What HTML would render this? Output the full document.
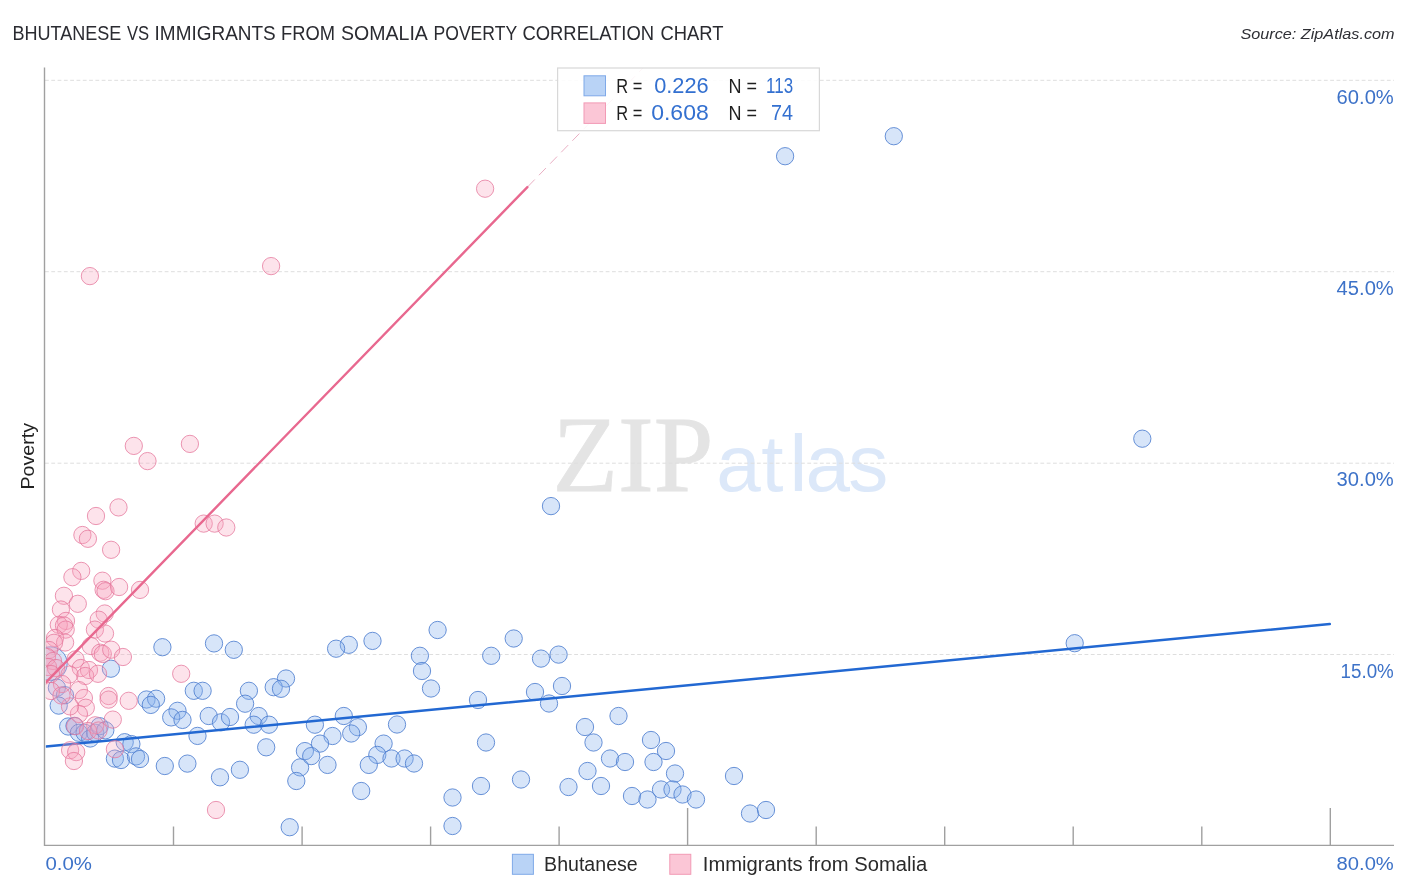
<!DOCTYPE html>
<html lang="en">
<head>
<meta charset="utf-8">
<title>Bhutanese vs Immigrants from Somalia Poverty Correlation Chart</title>
<style>
html,body{margin:0;padding:0;background:#fff;}
body{width:1406px;height:892px;overflow:hidden;font-family:"Liberation Sans",sans-serif;}
svg{display:block;}
text{font-family:"Liberation Sans",sans-serif;}
.title{font-size:19.5px;fill:#2a2b31;}
.src{font-size:15.5px;font-style:italic;fill:#2e2f35;}
.ax{font-size:19.7px;fill:#3d72c8;}
.xl{font-size:19.2px;}
.ylab{font-size:18.8px;fill:#222;}
.leg{font-size:20px;fill:#2a2a2a;}
.lt{font-size:20px;fill:#1f1f1f;}
.lv{font-size:21.4px;fill:#3370d0;}
.grid line{stroke:#dedede;stroke-width:1;stroke-dasharray:3.8 2.5;}
.axis line{stroke:#a0a0a0;stroke-width:1.4;}
.b{fill:#8ab4ee;fill-opacity:.34;stroke:#4f7fd0;stroke-opacity:.85;stroke-width:1;}
.p{fill:#f7a3bd;fill-opacity:.30;stroke:#e4749a;stroke-opacity:.75;stroke-width:1;}
.wm1{font-family:"Liberation Serif",serif;font-size:108.5px;fill:#e4e4e4;stroke:#e4e4e4;stroke-width:.8;}
.wm2{font-family:"Liberation Sans",sans-serif;font-size:80px;fill:#dce8f9;}
</style>
</head>
<body>
<svg width="1406" height="892" viewBox="0 0 1406 892">
<defs>
<clipPath id="plot"><rect x="45.8" y="60" width="1350" height="785"/></clipPath>
</defs>
<rect width="1406" height="892" fill="#ffffff"/>
<text class="title" y="40.2"><tspan x="12.5" textLength="108.9" lengthAdjust="spacingAndGlyphs">BHUTANESE</tspan> <tspan x="127" textLength="22.2" lengthAdjust="spacingAndGlyphs">VS</tspan> <tspan x="154.6" textLength="121.1" lengthAdjust="spacingAndGlyphs">IMMIGRANTS</tspan> <tspan x="281.1" textLength="54.0" lengthAdjust="spacingAndGlyphs">FROM</tspan> <tspan x="341.1" textLength="85.7" lengthAdjust="spacingAndGlyphs">SOMALIA</tspan> <tspan x="433.5" textLength="83.3" lengthAdjust="spacingAndGlyphs">POVERTY</tspan> <tspan x="522.4" textLength="131.7" lengthAdjust="spacingAndGlyphs">CORRELATION</tspan> <tspan x="660.5" textLength="63.0" lengthAdjust="spacingAndGlyphs">CHART</tspan></text>
<text class="src" x="1240.4" y="39" textLength="154.2" lengthAdjust="spacingAndGlyphs">Source: ZipAtlas.com</text>

<g class="wm">
<text class="wm1" x="552.5" y="491" textLength="161" lengthAdjust="spacingAndGlyphs">ZIP</text>
<text class="wm2" x="716.2 761.2 789.5 805.5 848.3" y="491">atlas</text>
</g>

<g class="grid">
<line x1="45" y1="80.3" x2="1394" y2="80.3"/>
<line x1="45" y1="271.7" x2="1394" y2="271.7"/>
<line x1="45" y1="463.2" x2="1394" y2="463.2"/>
<line x1="45" y1="654.5" x2="1394" y2="654.5"/>
</g>

<g clip-path="url(#plot)">
<g id="blue">
<circle class="b" cx="50.4" cy="663.6" r="16.8"/>
<circle class="b" cx="785.1" cy="156.2" r="8.65"/>
<circle class="b" cx="893.8" cy="136.2" r="8.65"/>
<circle class="b" cx="1142.3" cy="438.7" r="8.65"/>
<circle class="b" cx="1074.7" cy="643.2" r="8.65"/>
<circle class="b" cx="551.0" cy="506.1" r="8.65"/>
<circle class="b" cx="437.6" cy="630.0" r="8.65"/>
<circle class="b" cx="372.5" cy="640.9" r="8.65"/>
<circle class="b" cx="348.8" cy="644.8" r="8.65"/>
<circle class="b" cx="336.1" cy="648.7" r="8.65"/>
<circle class="b" cx="419.9" cy="655.8" r="8.65"/>
<circle class="b" cx="422.0" cy="671.0" r="8.65"/>
<circle class="b" cx="491.2" cy="655.8" r="8.65"/>
<circle class="b" cx="513.7" cy="638.5" r="8.65"/>
<circle class="b" cx="541.0" cy="658.6" r="8.65"/>
<circle class="b" cx="558.6" cy="654.6" r="8.65"/>
<circle class="b" cx="162.4" cy="647.2" r="8.65"/>
<circle class="b" cx="214.0" cy="643.4" r="8.65"/>
<circle class="b" cx="233.8" cy="649.8" r="8.65"/>
<circle class="b" cx="110.9" cy="668.7" r="8.65"/>
<circle class="b" cx="56.9" cy="687.7" r="8.65"/>
<circle class="b" cx="65.0" cy="695.2" r="8.65"/>
<circle class="b" cx="58.7" cy="705.6" r="8.65"/>
<circle class="b" cx="193.8" cy="690.8" r="8.65"/>
<circle class="b" cx="202.6" cy="690.8" r="8.65"/>
<circle class="b" cx="146.5" cy="699.5" r="8.65"/>
<circle class="b" cx="156.1" cy="698.7" r="8.65"/>
<circle class="b" cx="150.8" cy="704.9" r="8.65"/>
<circle class="b" cx="177.5" cy="710.8" r="8.65"/>
<circle class="b" cx="171.2" cy="717.4" r="8.65"/>
<circle class="b" cx="182.5" cy="719.9" r="8.65"/>
<circle class="b" cx="208.7" cy="716.0" r="8.65"/>
<circle class="b" cx="221.0" cy="722.3" r="8.65"/>
<circle class="b" cx="230.0" cy="717.0" r="8.65"/>
<circle class="b" cx="197.5" cy="735.9" r="8.65"/>
<circle class="b" cx="68.2" cy="726.5" r="8.65"/>
<circle class="b" cx="74.5" cy="725.9" r="8.65"/>
<circle class="b" cx="78.9" cy="732.8" r="8.65"/>
<circle class="b" cx="84.6" cy="732.8" r="8.65"/>
<circle class="b" cx="90.2" cy="738.5" r="8.65"/>
<circle class="b" cx="95.2" cy="732.8" r="8.65"/>
<circle class="b" cx="99.6" cy="726.2" r="8.65"/>
<circle class="b" cx="105.3" cy="730.3" r="8.65"/>
<circle class="b" cx="124.7" cy="742.2" r="8.65"/>
<circle class="b" cx="131.4" cy="744.1" r="8.65"/>
<circle class="b" cx="114.9" cy="758.6" r="8.65"/>
<circle class="b" cx="121.0" cy="760.0" r="8.65"/>
<circle class="b" cx="136.0" cy="756.4" r="8.65"/>
<circle class="b" cx="140.0" cy="759.0" r="8.65"/>
<circle class="b" cx="164.8" cy="766.0" r="8.65"/>
<circle class="b" cx="187.4" cy="763.6" r="8.65"/>
<circle class="b" cx="286.0" cy="678.5" r="8.65"/>
<circle class="b" cx="273.7" cy="687.2" r="8.65"/>
<circle class="b" cx="281.0" cy="688.8" r="8.65"/>
<circle class="b" cx="248.9" cy="690.8" r="8.65"/>
<circle class="b" cx="245.1" cy="703.7" r="8.65"/>
<circle class="b" cx="258.7" cy="716.0" r="8.65"/>
<circle class="b" cx="253.7" cy="724.7" r="8.65"/>
<circle class="b" cx="269.0" cy="724.7" r="8.65"/>
<circle class="b" cx="314.9" cy="724.7" r="8.65"/>
<circle class="b" cx="343.8" cy="716.0" r="8.65"/>
<circle class="b" cx="357.9" cy="727.2" r="8.65"/>
<circle class="b" cx="351.2" cy="733.5" r="8.65"/>
<circle class="b" cx="332.5" cy="736.0" r="8.65"/>
<circle class="b" cx="320.0" cy="743.6" r="8.65"/>
<circle class="b" cx="266.2" cy="747.3" r="8.65"/>
<circle class="b" cx="304.9" cy="751.1" r="8.65"/>
<circle class="b" cx="311.2" cy="756.1" r="8.65"/>
<circle class="b" cx="300.1" cy="767.4" r="8.65"/>
<circle class="b" cx="327.5" cy="764.9" r="8.65"/>
<circle class="b" cx="296.3" cy="781.0" r="8.65"/>
<circle class="b" cx="239.9" cy="769.8" r="8.65"/>
<circle class="b" cx="220.0" cy="777.3" r="8.65"/>
<circle class="b" cx="383.6" cy="743.6" r="8.65"/>
<circle class="b" cx="377.3" cy="754.9" r="8.65"/>
<circle class="b" cx="368.8" cy="764.9" r="8.65"/>
<circle class="b" cx="391.5" cy="758.5" r="8.65"/>
<circle class="b" cx="361.2" cy="791.0" r="8.65"/>
<circle class="b" cx="397.0" cy="724.5" r="8.65"/>
<circle class="b" cx="289.7" cy="827.2" r="8.65"/>
<circle class="b" cx="431.0" cy="688.5" r="8.65"/>
<circle class="b" cx="478.0" cy="700.0" r="8.65"/>
<circle class="b" cx="535.0" cy="692.0" r="8.65"/>
<circle class="b" cx="549.0" cy="703.5" r="8.65"/>
<circle class="b" cx="562.0" cy="686.0" r="8.65"/>
<circle class="b" cx="404.6" cy="758.5" r="8.65"/>
<circle class="b" cx="414.0" cy="763.5" r="8.65"/>
<circle class="b" cx="486.0" cy="742.5" r="8.65"/>
<circle class="b" cx="452.5" cy="797.5" r="8.65"/>
<circle class="b" cx="452.5" cy="826.0" r="8.65"/>
<circle class="b" cx="481.0" cy="786.0" r="8.65"/>
<circle class="b" cx="521.0" cy="779.5" r="8.65"/>
<circle class="b" cx="618.5" cy="716.0" r="8.65"/>
<circle class="b" cx="585.0" cy="727.0" r="8.65"/>
<circle class="b" cx="593.5" cy="742.5" r="8.65"/>
<circle class="b" cx="610.0" cy="758.5" r="8.65"/>
<circle class="b" cx="625.0" cy="762.0" r="8.65"/>
<circle class="b" cx="587.5" cy="771.0" r="8.65"/>
<circle class="b" cx="568.5" cy="787.0" r="8.65"/>
<circle class="b" cx="601.0" cy="786.0" r="8.65"/>
<circle class="b" cx="651.0" cy="740.0" r="8.65"/>
<circle class="b" cx="666.0" cy="751.0" r="8.65"/>
<circle class="b" cx="653.5" cy="762.0" r="8.65"/>
<circle class="b" cx="675.0" cy="773.5" r="8.65"/>
<circle class="b" cx="632.0" cy="796.0" r="8.65"/>
<circle class="b" cx="647.5" cy="799.5" r="8.65"/>
<circle class="b" cx="661.0" cy="789.5" r="8.65"/>
<circle class="b" cx="672.5" cy="789.5" r="8.65"/>
<circle class="b" cx="682.5" cy="794.5" r="8.65"/>
<circle class="b" cx="696.0" cy="799.5" r="8.65"/>
<circle class="b" cx="734.0" cy="776.0" r="8.65"/>
<circle class="b" cx="750.0" cy="813.5" r="8.65"/>
<circle class="b" cx="766.0" cy="810.0" r="8.65"/>
</g>
<line x1="46" y1="746.5" x2="1329.8" y2="624.1" stroke="#2268d2" stroke-width="2.5" stroke-linecap="round"/>
<g id="pink">
<circle class="p" cx="89.9" cy="276.1" r="8.65"/>
<circle class="p" cx="271.1" cy="266.1" r="8.65"/>
<circle class="p" cx="485.1" cy="188.7" r="8.65"/>
<circle class="p" cx="133.8" cy="445.9" r="8.65"/>
<circle class="p" cx="147.5" cy="461.1" r="8.65"/>
<circle class="p" cx="189.9" cy="443.9" r="8.65"/>
<circle class="p" cx="118.5" cy="507.4" r="8.65"/>
<circle class="p" cx="96.0" cy="516.0" r="8.65"/>
<circle class="p" cx="82.4" cy="535.0" r="8.65"/>
<circle class="p" cx="87.9" cy="538.8" r="8.65"/>
<circle class="p" cx="111.1" cy="549.8" r="8.65"/>
<circle class="p" cx="203.7" cy="523.6" r="8.65"/>
<circle class="p" cx="214.6" cy="523.6" r="8.65"/>
<circle class="p" cx="226.3" cy="527.5" r="8.65"/>
<circle class="p" cx="81.2" cy="570.9" r="8.65"/>
<circle class="p" cx="72.4" cy="577.2" r="8.65"/>
<circle class="p" cx="102.4" cy="580.7" r="8.65"/>
<circle class="p" cx="103.6" cy="589.8" r="8.65"/>
<circle class="p" cx="105.5" cy="591.2" r="8.65"/>
<circle class="p" cx="119.1" cy="587.0" r="8.65"/>
<circle class="p" cx="140.0" cy="589.9" r="8.65"/>
<circle class="p" cx="63.9" cy="595.8" r="8.65"/>
<circle class="p" cx="77.8" cy="603.8" r="8.65"/>
<circle class="p" cx="60.9" cy="609.5" r="8.65"/>
<circle class="p" cx="104.7" cy="613.5" r="8.65"/>
<circle class="p" cx="98.7" cy="619.7" r="8.65"/>
<circle class="p" cx="66.0" cy="620.9" r="8.65"/>
<circle class="p" cx="58.8" cy="624.8" r="8.65"/>
<circle class="p" cx="64.0" cy="625.5" r="8.65"/>
<circle class="p" cx="65.7" cy="629.6" r="8.65"/>
<circle class="p" cx="94.9" cy="629.6" r="8.65"/>
<circle class="p" cx="105.0" cy="633.5" r="8.65"/>
<circle class="p" cx="55.0" cy="638.0" r="8.65"/>
<circle class="p" cx="65.1" cy="642.5" r="8.65"/>
<circle class="p" cx="54.0" cy="642.8" r="8.65"/>
<circle class="p" cx="90.8" cy="646.0" r="8.65"/>
<circle class="p" cx="100.3" cy="652.7" r="8.65"/>
<circle class="p" cx="102.8" cy="654.0" r="8.65"/>
<circle class="p" cx="111.2" cy="649.7" r="8.65"/>
<circle class="p" cx="122.9" cy="657.0" r="8.65"/>
<circle class="p" cx="75.5" cy="659.4" r="8.65"/>
<circle class="p" cx="80.8" cy="668.0" r="8.65"/>
<circle class="p" cx="89.0" cy="670.0" r="8.65"/>
<circle class="p" cx="85.2" cy="676.0" r="8.65"/>
<circle class="p" cx="98.0" cy="673.8" r="8.65"/>
<circle class="p" cx="181.2" cy="673.8" r="8.65"/>
<circle class="p" cx="108.6" cy="696.0" r="8.65"/>
<circle class="p" cx="108.6" cy="699.6" r="8.65"/>
<circle class="p" cx="128.7" cy="700.8" r="8.65"/>
<circle class="p" cx="112.8" cy="719.6" r="8.65"/>
<circle class="p" cx="78.9" cy="690.1" r="8.65"/>
<circle class="p" cx="83.9" cy="698.0" r="8.65"/>
<circle class="p" cx="85.8" cy="707.7" r="8.65"/>
<circle class="p" cx="78.9" cy="714.0" r="8.65"/>
<circle class="p" cx="70.0" cy="706.4" r="8.65"/>
<circle class="p" cx="95.2" cy="725.3" r="8.65"/>
<circle class="p" cx="70.1" cy="750.2" r="8.65"/>
<circle class="p" cx="76.2" cy="752.1" r="8.65"/>
<circle class="p" cx="73.9" cy="761.0" r="8.65"/>
<circle class="p" cx="114.9" cy="749.2" r="8.65"/>
<circle class="p" cx="216.0" cy="810.0" r="8.65"/>
<circle class="p" cx="49.0" cy="650.0" r="8.65"/>
<circle class="p" cx="47.0" cy="657.0" r="8.65"/>
<circle class="p" cx="53.0" cy="661.0" r="8.65"/>
<circle class="p" cx="48.0" cy="667.0" r="8.65"/>
<circle class="p" cx="56.0" cy="668.0" r="8.65"/>
<circle class="p" cx="51.0" cy="674.0" r="8.65"/>
<circle class="p" cx="69.5" cy="674.5" r="8.65"/>
<circle class="p" cx="62.0" cy="684.0" r="8.65"/>
<circle class="p" cx="51.0" cy="691.0" r="8.65"/>
<circle class="p" cx="61.5" cy="695.5" r="8.65"/>
<circle class="p" cx="75.2" cy="726.2" r="8.65"/>
<circle class="p" cx="88.0" cy="731.0" r="8.65"/>
<circle class="p" cx="98.5" cy="730.5" r="8.65"/>
</g>
<line x1="46" y1="682.4" x2="527.4" y2="187.1" stroke="#e8688f" stroke-width="2.4" stroke-linecap="round"/>
<line x1="527.8" y1="186.7" x2="643" y2="68" stroke="#e08fab" stroke-opacity=".8" stroke-width="0.9" stroke-dasharray="10 6"/>
</g>

<g class="axis">
<line x1="44.5" y1="67.5" x2="44.5" y2="846"/>
<line x1="44" y1="845.4" x2="1394" y2="845.4"/>
<line x1="173.5" y1="826.5" x2="173.5" y2="845.5"/>
<line x1="302.1" y1="826.5" x2="302.1" y2="845.5"/>
<line x1="430.6" y1="826.5" x2="430.6" y2="845.5"/>
<line x1="559.1" y1="826.5" x2="559.1" y2="845.5"/>
<line x1="687.6" y1="808" x2="687.6" y2="845.5"/>
<line x1="816.2" y1="826.5" x2="816.2" y2="845.5"/>
<line x1="944.7" y1="826.5" x2="944.7" y2="845.5"/>
<line x1="1073.2" y1="826.5" x2="1073.2" y2="845.5"/>
<line x1="1201.8" y1="826.5" x2="1201.8" y2="845.5"/>
<line x1="1330.3" y1="808" x2="1330.3" y2="845.5"/>
</g>

<g id="legend-top">
<rect x="557.6" y="68" width="261.8" height="62.7" fill="#ffffff" fill-opacity=".88" stroke="#d8d8d8" stroke-width="1.2"/>
<rect x="584" y="75.8" width="21.5" height="20" fill="#b9d3f6" stroke="#7fa9e8" stroke-width="1"/>
<rect x="584" y="102.9" width="21.5" height="20.5" fill="#fbc6d6" stroke="#f29ab5" stroke-width="1"/>
<text class="lt" x="616.3" y="92.9" textLength="26" lengthAdjust="spacingAndGlyphs">R =</text>
<text class="lv" x="654.2" y="92.9" textLength="54.5" lengthAdjust="spacingAndGlyphs">0.226</text>
<text class="lt" x="728.6" y="92.9" textLength="28.5" lengthAdjust="spacingAndGlyphs">N =</text>
<text class="lv" x="766.1" y="92.9" textLength="27" lengthAdjust="spacingAndGlyphs">113</text>
<text class="lt" x="616.3" y="119.7" textLength="26" lengthAdjust="spacingAndGlyphs">R =</text>
<text class="lv" x="651.2" y="119.7" textLength="57.5" lengthAdjust="spacingAndGlyphs">0.608</text>
<text class="lt" x="728.6" y="119.7" textLength="28.5" lengthAdjust="spacingAndGlyphs">N =</text>
<text class="lv" x="771.1" y="119.7" textLength="22" lengthAdjust="spacingAndGlyphs">74</text>
</g>

<g id="ylabels">
<text class="ax" x="1336.6" y="103.8" textLength="57.2" lengthAdjust="spacingAndGlyphs">60.0%</text>
<text class="ax" x="1336.6" y="295.1" textLength="57.2" lengthAdjust="spacingAndGlyphs">45.0%</text>
<text class="ax" x="1336.6" y="486.4" textLength="57.2" lengthAdjust="spacingAndGlyphs">30.0%</text>
<text class="ax" x="1340.6" y="677.9" textLength="53.2" lengthAdjust="spacingAndGlyphs">15.0%</text>
</g>
<text class="ax xl" x="45.4" y="869.8" textLength="46.5" lengthAdjust="spacingAndGlyphs">0.0%</text>
<text class="ax xl" x="1336.6" y="869.8" textLength="57.2" lengthAdjust="spacingAndGlyphs">80.0%</text>
<text class="ylab" transform="translate(33.9,489.5) rotate(-90)" textLength="66.6" lengthAdjust="spacingAndGlyphs">Poverty</text>

<g id="legend-bottom">
<rect x="512.4" y="854.3" width="21" height="20" fill="#b9d3f6" stroke="#7fa9e8" stroke-width="1"/>
<text class="leg" x="544.1" y="871.3" textLength="93.6" lengthAdjust="spacingAndGlyphs">Bhutanese</text>
<rect x="669.8" y="854.3" width="21" height="20" fill="#fbc6d6" stroke="#f29ab5" stroke-width="1"/>
<text class="leg" x="702.8" y="871.3" textLength="224.4" lengthAdjust="spacingAndGlyphs">Immigrants from Somalia</text>
</g>
</svg>
</body>
</html>
